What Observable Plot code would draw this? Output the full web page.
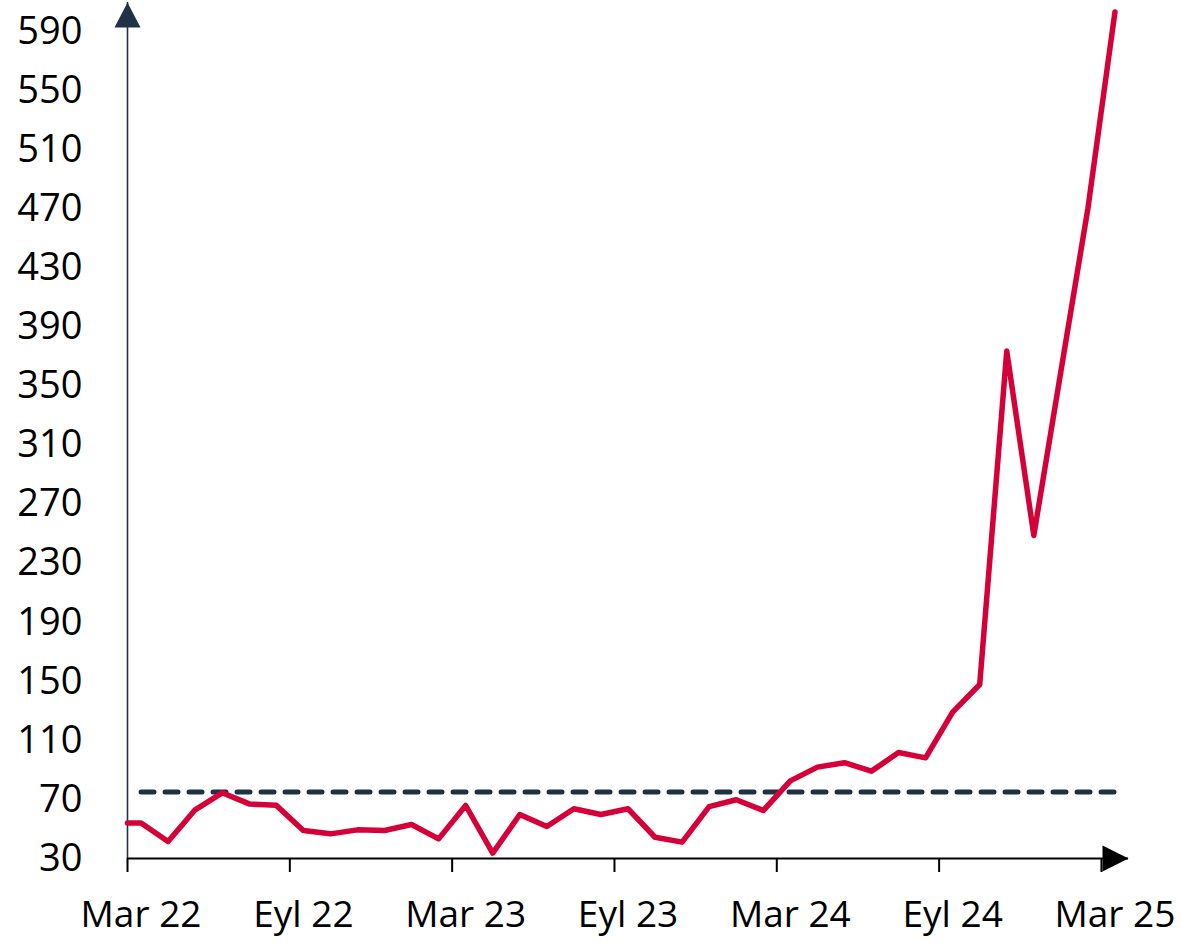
<!DOCTYPE html>
<html>
<head>
<meta charset="utf-8">
<script src="https://cdn.jsdelivr.net/npm/d3@7"></script>
<script src="https://cdn.jsdelivr.net/npm/@observablehq/plot@0.6"></script>
<style>
  html, body { margin: 0; padding: 0; background: #ffffff; }
  #chart svg { display: block; }
</style>
</head>
<body>
<div id="chart"></div>
<script>
// Months (Turkish abbreviations), Mar 2022 – Mar 2025
const months = [
  "Mar 22","Nis 22","May 22","Haz 22","Tem 22","Ağu 22","Eyl 22","Eki 22","Kas 22","Ara 22",
  "Oca 23","Şub 23","Mar 23","Nis 23","May 23","Haz 23","Tem 23","Ağu 23","Eyl 23","Eki 23","Kas 23","Ara 23",
  "Oca 24","Şub 24","Mar 24","Nis 24","May 24","Haz 24","Tem 24","Ağu 24","Eyl 24","Eki 24","Kas 24","Ara 24",
  "Oca 25","Şub 25","Mar 25"
];
const values = [
  54, 41.5, 63, 74.5, 67, 66, 49, 46.7, 49.4, 49,
  53, 43.3, 65.9, 33.6, 59.8, 51.7, 63.7, 59.8, 63.7, 44.4, 41.1, 65.2,
  69.8, 62.5, 82.6, 91.9, 94.9, 89.2, 101.8, 98.2, 129.2, 147.9, 373.8, 248.9,
  360, 470.5, 603.6
];
const threshold = 75;
const yTicks = [30, 70, 110, 150, 190, 230, 270, 310, 350, 390, 430, 470, 510, 550, 590];
const yDomain = [30, 610];
const labelStep = 6;

const rows = months.map((m, i) => ({i, m, v: values[i]}));
const xDomain = [0, months.length];
// line begins at the axis with the first value
const lineRows = [{pos: xDomain[0], v: values[0]}, ...rows.map(d => ({pos: d.i + 0.5, v: d.v}))];
const boundaries = d3.range(0, months.length + 1, labelStep);
const labelPos = d3.range(0, months.length, labelStep).map(i => i + 0.5);

const upArrow = {draw(ctx) { ctx.moveTo(0, 0); ctx.lineTo(-13, 25); ctx.lineTo(13, 25); ctx.closePath(); }};
const rightArrow = {draw(ctx) { ctx.moveTo(0, 0); ctx.lineTo(-26, -13); ctx.lineTo(-26, 13); ctx.closePath(); }};

const font = "'Open Sans', 'Noto Sans', sans-serif";

const chart = Plot.plot({
  width: 1181,
  height: 943,
  marginLeft: 127,
  marginRight: 53,
  marginTop: 2,
  marginBottom: 85,
  style: {fontFamily: font, fontSize: "37px", color: "#000", background: "#fff"},
  x: {type: "linear", domain: xDomain, axis: null},
  y: {type: "linear", domain: yDomain, axis: null},
  marks: [
    // axis lines
    Plot.ruleX([xDomain[0]], {stroke: "#1f3246", strokeWidth: 1.6}),
    Plot.ruleY([yDomain[0]], {stroke: "#000", strokeWidth: 2}),
    // x tick marks at period boundaries
    Plot.axisX(boundaries, {tickSize: 14, tickFormat: () => "", label: null, stroke: "#000", strokeWidth: 2}),
    // x labels at category centres
    Plot.axisX(labelPos, {tickSize: 0, tickPadding: 42, fontSize: 37, fill: "#000", label: null,
      tickFormat: d => months[Math.round(d - 0.5)]}),
    // y labels
    Plot.axisY(yTicks, {tickSize: 0, tickPadding: 45, fontSize: 38, fill: "#000", label: null}),
    // threshold dashed line
    Plot.line(rows, {x: d => d.i + 0.5, y: () => threshold, stroke: "#1e3246", strokeWidth: 5,
      strokeDasharray: "13,11", strokeLinecap: "round"}),
    // series
    Plot.line(lineRows, {x: "pos", y: "v", stroke: "#d50037", strokeWidth: 5.5, strokeLinecap: "round"}),
    // arrow heads
    Plot.dot([0], {x: () => xDomain[0], y: () => yDomain[1], symbol: upArrow, fill: "#1f3246", stroke: null}),
    Plot.dot([0], {x: () => xDomain[1], y: () => yDomain[0], symbol: rightArrow, fill: "#000", stroke: null})
  ]
});
document.getElementById("chart").appendChild(chart);
</script>
</body>
</html>
